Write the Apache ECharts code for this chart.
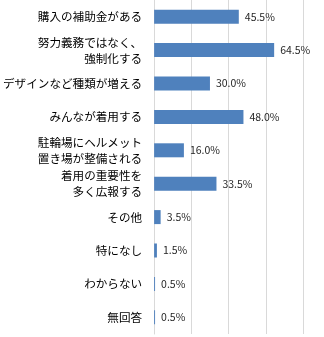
<!DOCTYPE html>
<html><head><meta charset="utf-8">
<script src="https://cdn.jsdelivr.net/npm/echarts@6/dist/echarts.min.js"></script>
<style>html,body{margin:0;padding:0;background:#fff}#c{width:324px;height:337px}</style>
</head><body><div id="c"></div>
<script>
const categories = ['購入の補助金がある','努力義務ではなく、\n強制化する','デザインなど種類が増える','みんなが着用する','駐輪場にヘルメット\n置き場が整備される','着用の重要性を\n多く広報する','その他','特になし','わからない','無回答'];
const values = [45.5, 64.5, 30.0, 48.0, 16.0, 33.5, 3.5, 1.5, 0.5, 0.5];
const xTicks = [0, 20, 40, 60, 80];

const chart = echarts.init(document.getElementById('c'), null, {renderer:'canvas'});
chart.setOption({
  animation:false,
  grid:{left:153, right:21, top:-3, bottom:3, containLabel:false},
  xAxis:{type:'value', min:xTicks[0], max:xTicks[xTicks.length-1], interval:20,
    axisLabel:{show:false}, axisTick:{show:false}, axisLine:{show:false},
    splitLine:{show:true, lineStyle:{color:'#d9d9d9', width:1}}},
  yAxis:{type:'category', inverse:true, data:categories,
    axisTick:{show:false},
    axisLine:{show:true, lineStyle:{color:'#d9d9d9', width:1}},
    axisLabel:{margin:12, fontSize:11.6, color:'#000', lineHeight:16, fontFamily:'"Noto Sans CJK JP"', align:'right'}},
  series:[{type:'bar', data:values, barWidth:14, itemStyle:{color:'#4f81bd'},
    label:{show:true, position:'right', distance:6, fontSize:10.5, color:'#262626', fontFamily:'"Noto Sans CJK JP"',
      formatter:p=>p.value.toFixed(1)+'%'}}]
});
</script></body></html>
